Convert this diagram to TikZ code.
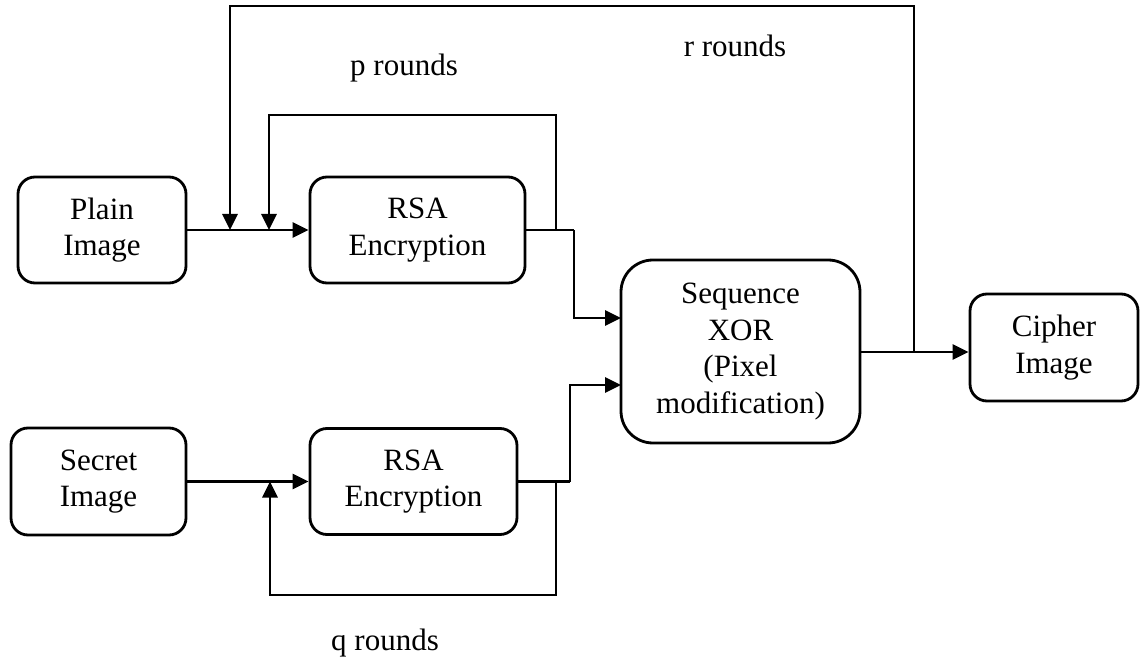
\documentclass[tikz,border=0pt]{standalone}
\usepackage{fontspec}
\setmainfont{Liberation Serif}
\usetikzlibrary{arrows.meta}
\tikzset{
  blk/.style={draw, line width=2.8pt, rounded corners=17pt, align=center,
    inner sep=0pt, font=\fontsize{31}{36.5}\selectfont},
  bigblk/.style={blk, rounded corners=32pt},
  flow/.style={line width=2.8pt, -{Triangle[length=16pt,width=15pt]}},
  wire/.style={line width=2.8pt},
  lbl/.style={anchor=base, font=\fontsize{31}{36.5}\selectfont},
}
\begin{document}
\begin{tikzpicture}[x=1pt, y=-1pt]
\useasboundingbox (0,0) rectangle (1141,660);

% blocks
\node[blk, minimum width=168pt, minimum height=106pt] (plain) at (102,230) {Plain\\Image};
\node[blk, minimum width=215pt, minimum height=106pt] (rsa1) at (417.5,230) {RSA\\Encryption};
\node[blk, minimum width=175pt, minimum height=107pt] (secret) at (98.5,481.5) {Secret\\Image};
\node[blk, minimum width=207pt, minimum height=106pt] (rsa2) at (413.5,481.5) {RSA\\Encryption};
\node[bigblk, minimum width=239pt, minimum height=183pt] (xor) at (740.5,351.5) {Sequence\\XOR\\(Pixel\\modification)};
\node[blk, minimum width=168pt, minimum height=107pt] (cipher) at (1054,347.5) {Cipher\\Image};

% junction and corner points
\coordinate (rin) at (230,230);
\coordinate (pin) at (269,230);
\coordinate (pout) at (556,230);
\coordinate (ptop) at (269,115);
\coordinate (rtop) at (230,6);
\coordinate (rout) at (914,352);
\coordinate (xin1) at (621,318);
\coordinate (xin2) at (621,385);
\coordinate (bend1) at (574,230);
\coordinate (bend2) at (570,481.5);
\coordinate (qin) at (270,481.5);
\coordinate (qout) at (556,481.5);
\coordinate (qbot) at (270,595);

% main data path
\draw[flow] (plain) -- (rsa1);
\draw[flow] (secret) -- (rsa2);
\draw[wire] (rsa1.east) -- (bend1);
\draw[flow] (bend1) |- (xin1);
\draw[wire] (rsa2.east) -- (bend2);
\draw[flow] (bend2) |- (xin2);
\draw[flow] (xor.east |- rout) -- (cipher.west |- rout);

% feedback loops
\draw[flow] (pout) |- (ptop) -- (pin);
\draw[flow] (rout) |- (rtop) -- (rin);
\draw[flow] (qout) |- (qbot) -- (qin);

% loop labels
\node[lbl] (plbl) at (404,76) {p rounds};
\node[lbl] (rlbl) at (735,57) {r rounds};
\node[lbl] (qlbl) at (385,650) {q rounds};
\end{tikzpicture}
\end{document}
